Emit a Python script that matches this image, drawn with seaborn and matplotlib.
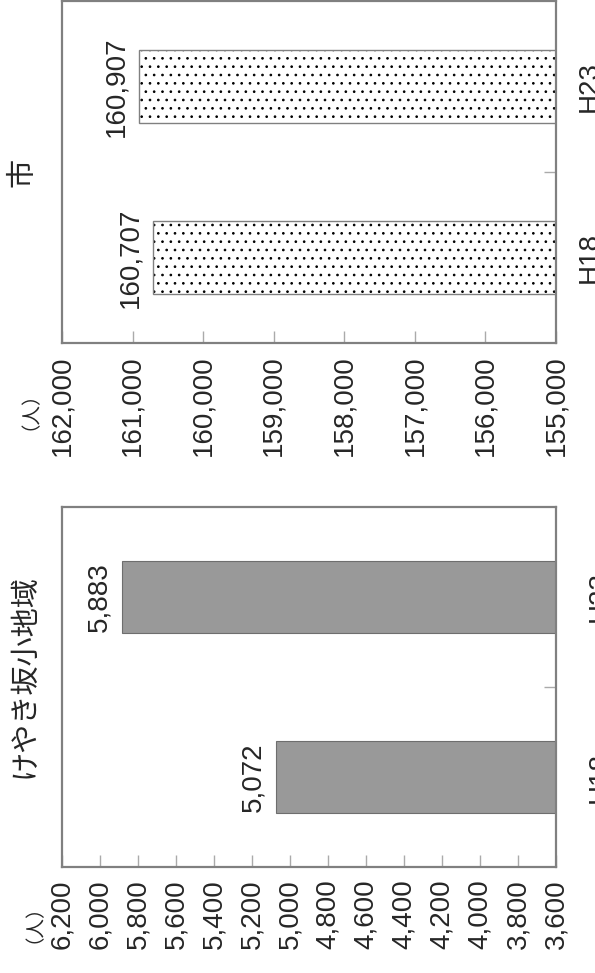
import matplotlib
matplotlib.use("Agg")
import matplotlib.pyplot as plt
import matplotlib.ticker as mticker
import pandas as pd
import seaborn as sns

# population (人), H18 vs H23
years = ["H18", "H23"]
keyakizaka = [5072, 5883]
city = [160707, 160907]

area_ticks = list(range(3600, 6201, 200))
city_ticks = list(range(155000, 162001, 1000))

sns.set_style("white")
plt.rcParams["font.family"] = ["Liberation Sans", "Noto Sans CJK JP", "DejaVu Sans"]
plt.rcParams["hatch.linewidth"] = 0.7

df_area = pd.DataFrame({"year": years, "pop": keyakizaka})
df_city = pd.DataFrame({"year": years, "pop": city})

fig = plt.figure(figsize=(5.95, 9.73), dpi=100)
ax_city = fig.add_axes([0.1042, 0.6475, 0.8303, 0.3515])
ax_area = fig.add_axes([0.1042, 0.1089, 0.8303, 0.3700])

# けやき坂小地域 - solid grey bars
sns.barplot(data=df_area, x="pop", y="year", order=years, orient="h",
            width=0.4, color="#999999", saturation=1, errorbar=None,
            edgecolor="#6e6e6e", linewidth=0.8, ax=ax_area)

# 市 - dotted bars, hatch first then grey outline on top
sns.barplot(data=df_city, x="pop", y="year", order=years, orient="h",
            width=0.43, color="white", saturation=1, errorbar=None,
            edgecolor="black", linewidth=0, hatch="..", ax=ax_city)
sns.barplot(data=df_city, x="pop", y="year", order=years, orient="h",
            width=0.43, color="#808080", fill=False, errorbar=None,
            linewidth=1.0, ax=ax_city)

panels = [
    (ax_area, keyakizaka, area_ticks, 22),
    (ax_city, city, city_ticks, 15),
]
for ax, vals, ticks, cat_pad in panels:
    ax.set_xlim(ticks[-1], ticks[0])
    ax.set_ylim(-0.5, 1.5)
    ax.set_xticks(ticks)
    ax.xaxis.set_major_formatter(mticker.StrMethodFormatter("{x:,.0f}"))
    ax.tick_params(axis="x", direction="in", length=9, width=1,
                   color="#aaaaaa", labelsize=20, labelrotation=90, pad=9,
                   bottom=True)
    ax.yaxis.tick_right()
    ax.set_yticks(range(len(years)))
    ax.set_yticklabels(years)
    ax.set_yticks([0.5], minor=True)
    ax.tick_params(axis="y", which="major", length=0, labelsize=20,
                   labelrotation=90, pad=cat_pad)
    ax.tick_params(axis="y", which="minor", direction="in", length=9,
                   width=1, color="#aaaaaa", right=True, left=False)
    for lab in ax.get_yticklabels():
        lab.set_verticalalignment("center")
    ax.set_xlabel("")
    ax.set_ylabel("")
    for s in ax.spines.values():
        s.set_visible(True)
        s.set_color("#808080")
        s.set_linewidth(1.6)
    for i, v in enumerate(vals):
        ax.annotate(f"{v:,}", xy=(v, i), xytext=(-7, 0),
                    textcoords="offset points", rotation=90,
                    ha="right", va="center", fontsize=20)

ax_area.text(-0.077, 0.53, "けやき坂小地域", transform=ax_area.transAxes,
             rotation=90, ha="center", va="center", fontsize=21,
             family=["Noto Sans CJK JP", "DejaVu Sans"])
ax_city.text(-0.08, 0.5, "市", transform=ax_city.transAxes,
             rotation=90, ha="center", va="center", fontsize=21,
             family=["Noto Sans CJK JP", "DejaVu Sans"])

fig.text(20 / 595, 1 - 401 / 973, "（人）", rotation=90, ha="center",
         va="center", fontsize=14, family=["Noto Sans CJK JP", "DejaVu Sans"])
fig.text(24 / 595, 1 - 914 / 973, "（人）", rotation=90, ha="center",
         va="center", fontsize=14, family=["Noto Sans CJK JP", "DejaVu Sans"])

fig.savefig("out.png", dpi=100)
